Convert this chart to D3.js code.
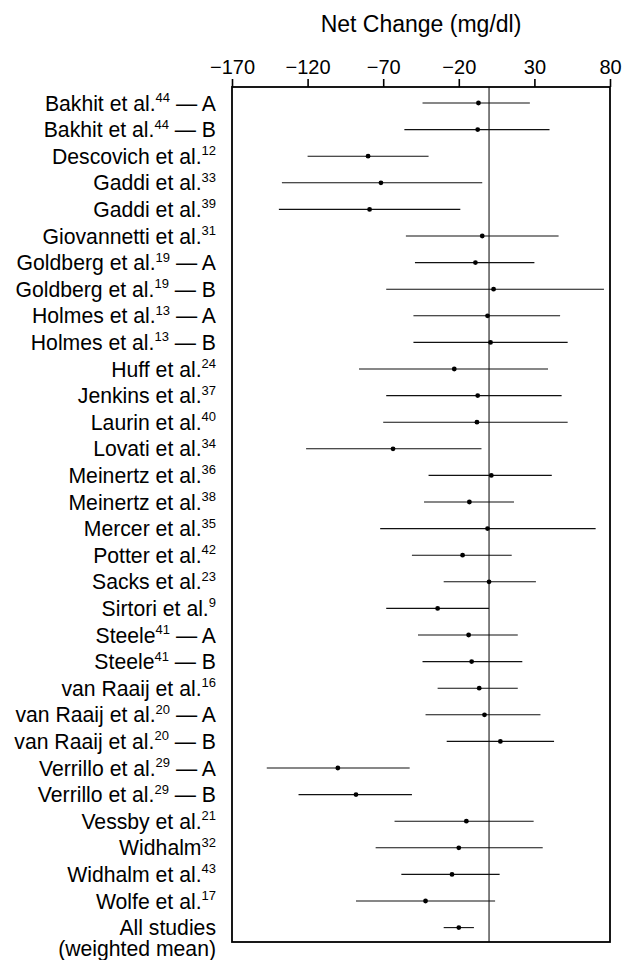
<!DOCTYPE html>
<html>
<head>
<meta charset="utf-8">
<script src="https://cdn.jsdelivr.net/npm/d3@7"></script>
<style>
  html, body { margin: 0; padding: 0; background: #fff; }
  svg { display: block; }
  text { font-family: "Liberation Sans", Arial, Helvetica, sans-serif; fill: #000; white-space: pre; }
</style>
</head>
<body>
<svg id="chart" width="633" height="960"></svg>
<script>
// ---- data ----
const studyNames = ["Bakhit et al.","Bakhit et al.","Descovich et al.","Gaddi et al.","Gaddi et al.",
  "Giovannetti et al.","Goldberg et al.","Goldberg et al.","Holmes et al.","Holmes et al.",
  "Huff et al.","Jenkins et al.","Laurin et al.","Lovati et al.","Meinertz et al.","Meinertz et al.",
  "Mercer et al.","Potter et al.","Sacks et al.","Sirtori et al.","Steele","Steele",
  "van Raaij et al.","van Raaij et al.","van Raaij et al.","Verrillo et al.","Verrillo et al.",
  "Vessby et al.","Widhalm","Widhalm et al.","Wolfe et al.","All studies"];
const refNumbers = ["44","44","12","33","39","31","19","19","13","13","24","37","40","34","36","38",
  "35","42","23","9","41","41","16","20","20","29","29","21","32","43","17",""];
const armSuffixes = [" — A"," — B","","","",""," — A"," — B"," — A"," — B","","","","","","",
  "","","",""," — A"," — B",""," — A"," — B"," — A"," — B","","","","",""];
const summaryNote = "(weighted mean)";
const estimates = [-7,-7.5,-80,-71.5,-79,-4.5,-9,3,-1,1,-23,-7.5,-8,-63.5,1.5,-13,-1,-17.5,0,-34,
  -13.5,-11.5,-6.5,-3,7.5,-100,-88,-15,-20,-24.5,-42,-20];
const lowerCI = [-44,-56,-120,-137,-139,-55,-49,-68,-50,-50,-86,-68,-70,-121,-40,-43,-72,-51,-30,-68,
  -47,-44,-34,-42,-28,-147,-126,-62.5,-75,-58,-88,-30];
const upperCI = [27,40,-40,-4.5,-19,46,30,76,47,52,39,48,52,-5,41.5,16.5,70.5,15,31,0,
  19,22,19,34,43,-52.5,-51,29.5,35.5,7,4,-10];
const tickValues = [-170,-120,-70,-20,30,80];
const axisTitle = "Net Change (mg/dl)";

// ---- layout ----
const svg = d3.select("#chart");
const box = {left: 232, right: 610, top: 87, bottom: 942};
const rows = d3.range(studyNames.length);

const x = d3.scaleLinear().domain([-170, 80]).range([box.left, box.right]);
const y = d3.scalePoint().domain(rows).range([103, 927.6]);

// axis
const axis = d3.axisTop(x).tickValues(tickValues).tickSize(8).tickPadding(5)
  .tickFormat(d3.format("d"));
const gAxis = svg.append("g").attr("transform", `translate(0,${box.top})`).call(axis);
gAxis.select(".domain").remove();
gAxis.selectAll(".tick line").attr("stroke", "#000").attr("stroke-width", 1.6);
gAxis.selectAll(".tick text").attr("font-size", 20)
  .attr("font-family", "'Liberation Sans', Arial, Helvetica, sans-serif").attr("fill", "#000");

// title
svg.append("text")
  .attr("x", (box.left + box.right) / 2).attr("y", 31.5)
  .attr("text-anchor", "middle").attr("font-size", 23)
  .text(axisTitle);

// box
svg.append("rect")
  .attr("x", box.left).attr("y", box.top)
  .attr("width", box.right - box.left).attr("height", box.bottom - box.top)
  .attr("fill", "none").attr("stroke", "#000").attr("stroke-width", 1.8);

// zero line
svg.append("line")
  .attr("x1", x(0)).attr("x2", x(0)).attr("y1", box.top).attr("y2", box.bottom)
  .attr("stroke", "#000").attr("stroke-width", 1);

// error bars
svg.append("g").selectAll("line").data(rows).join("line")
  .attr("x1", i => x(lowerCI[i])).attr("x2", i => x(upperCI[i]))
  .attr("y1", i => y(i)).attr("y2", i => y(i))
  .attr("stroke", "#111").attr("stroke-width", 1.1);

// points
svg.append("g").selectAll("circle").data(rows).join("circle")
  .attr("cx", i => x(estimates[i])).attr("cy", i => y(i)).attr("r", 2.4)
  .attr("fill", "#000");

// labels
const labelX = 216;
const labels = svg.append("g").selectAll("text").data(rows).join("text")
  .attr("x", labelX).attr("y", i => y(i) + 7.5)
  .attr("text-anchor", "end").attr("font-size", 21.2);
labels.each(function(i) {
  const t = d3.select(this);
  t.append("tspan").text(studyNames[i]);
  if (refNumbers[i]) {
    t.append("tspan").attr("font-size", 13).attr("dy", -8.5).text(refNumbers[i]);
    if (armSuffixes[i]) t.append("tspan").attr("dy", 8.5).text(armSuffixes[i]);
  }
});
svg.append("text")
  .attr("x", labelX).attr("y", y(rows.length - 1) + 7.5 + 21)
  .attr("text-anchor", "end").attr("font-size", 21.2)
  .text(summaryNote);
</script>
</body>
</html>
